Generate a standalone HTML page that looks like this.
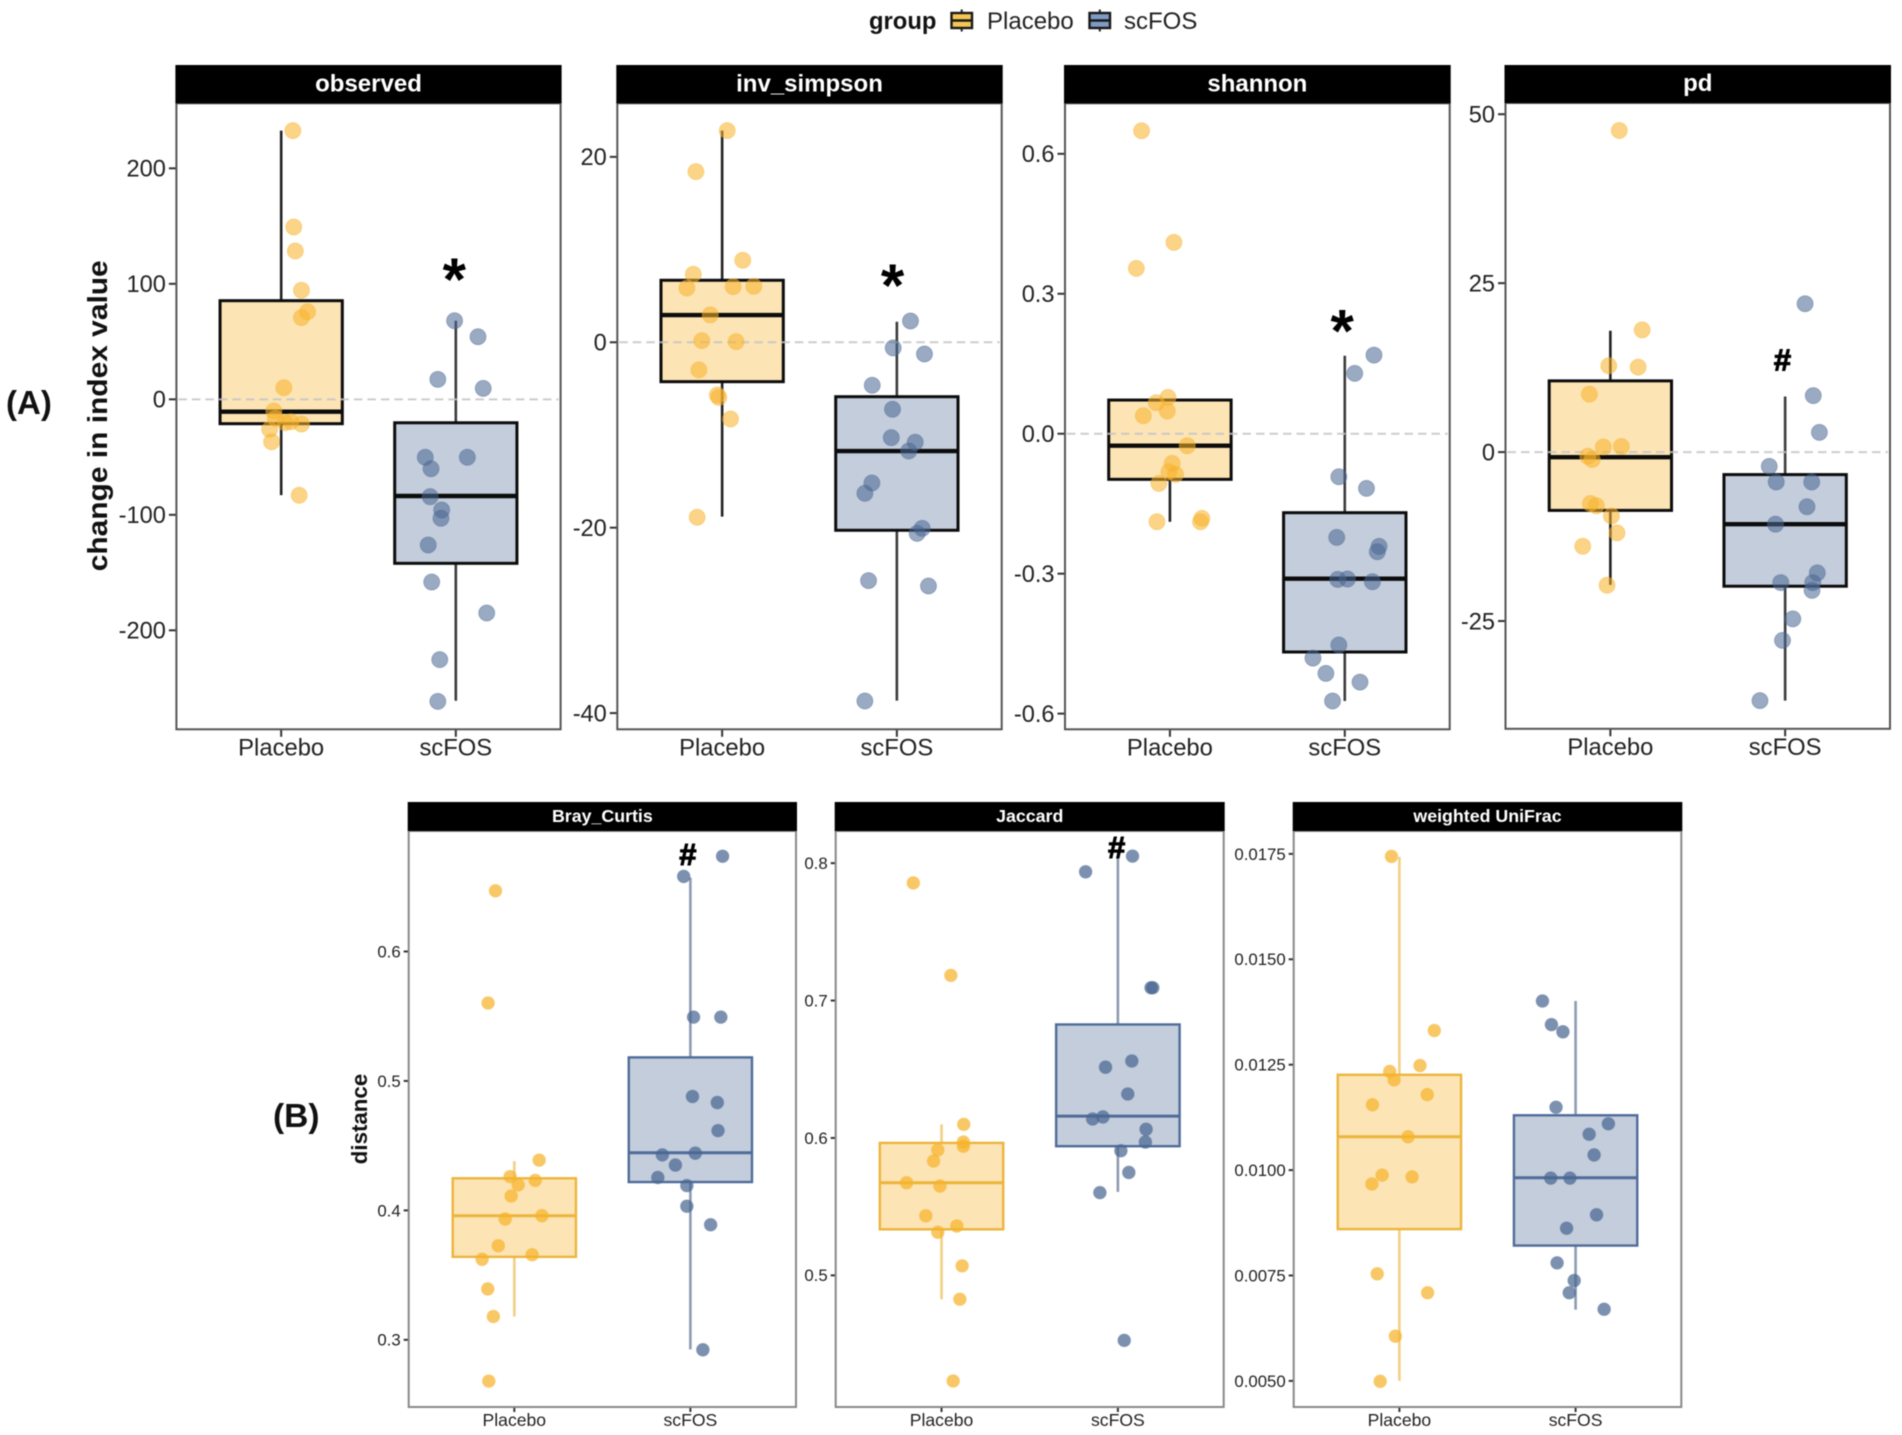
<!DOCTYPE html>
<html lang="en">
<head>
<meta charset="utf-8">
<title>Change in diversity index and distance by group</title>
<style>
html,body{margin:0;padding:0;background:#fff;}
svg{display:block;filter:blur(.55px);font-family:"Liberation Sans",sans-serif;}
</style>
</head>
<body>
<svg id="chart" xmlns="http://www.w3.org/2000/svg" width="1902" height="1435" viewBox="0 0 1902 1435">
<rect x="0" y="0" width="1902" height="1435" fill="#fff"/>
<g>
<text x="869" y="29" font-size="23.8" font-weight="bold" fill="#111">group</text>
<g>
<line x1="961.7" x2="961.7" y1="9.5" y2="31.5" stroke="#222" stroke-width="2"/>
<rect x="951.5" y="13" width="20.5" height="15" fill="#f5c653" stroke="#1a1a1a" stroke-width="2.4"/>
<line x1="951.5" x2="972" y1="20.5" y2="20.5" stroke="#1a1a1a" stroke-width="2.4"/>
</g>
<text x="987" y="29" font-size="24" fill="#222">Placebo</text>
<g>
<line x1="1099.8" x2="1099.8" y1="9.5" y2="31.5" stroke="#222" stroke-width="2"/>
<rect x="1089.5" y="13" width="20.5" height="15" fill="#7f9ac4" stroke="#1a1a1a" stroke-width="2.4"/>
<line x1="1089.5" x2="1110" y1="20.5" y2="20.5" stroke="#1a1a1a" stroke-width="2.4"/>
</g>
<text x="1124" y="29" font-size="24" fill="#222">scFOS</text>
</g>
<text x="6" y="414" font-size="33" font-weight="bold" fill="#111">(A)</text>
<text x="273" y="1127" font-size="33.5" font-weight="bold" fill="#111">(B)</text>
<text transform="translate(107,415.8) rotate(-90)" text-anchor="middle" font-size="28" font-weight="bold" textLength="311" lengthAdjust="spacingAndGlyphs" fill="#111">change in index value</text>
<text transform="translate(367,1119) rotate(-90)" text-anchor="middle" font-size="22.3" font-weight="bold" fill="#111">distance</text>
<g id="panels"></g>
</svg>
<script>
// ---------- shared categories ----------
const categories = ['Placebo', 'scFOS'];

// ---------- observed ----------
const observedTickValues = [200, 100, 0, -100, -200];
const observedTickLabels = ['200', '100', '0', '-100', '-200'];
const observedPlaceboBox = [-82.9, -21.1, -10.7, 85.4, 232.6];
const observedScfosBox = [-261, -142, -83.7, -20.3, 68];
const observedPlaceboValues = [232.6, 149.2, 128.4, 94.4, 75.8, 70.7, 10, -10.1, -26, -36.7, -83.1, -20.2, -19.4, -21.4, -16.5];
const observedPlaceboJitter = [.067, .072, .081, .116, .151, .116, .015, -.042, -.066, -.055, .103, .022, .055, .116, -.033];
const observedScfosValues = [68, 54.2, 17.3, 9.5, -50.2, -50.2, -60.1, -84.3, -95.8, -103, -126.1, -158.2, -185, -225.4, -261.5];
const observedScfosJitter = [-.007, .127, -.103, .157, -.175, .066, -.142, -.147, -.081, -.085, -.158, -.138, .177, -.092, -.103];

// ---------- inv_simpson ----------
const invTickValues = [20, 0, -20, -40];
const invTickLabels = ['20', '0', '-20', '-40'];
const invPlaceboBox = [-18.81, -4.25, 2.94, 6.69, 22.83];
const invScfosBox = [-38.66, -20.28, -11.73, -5.87, 2.22];
const invPlaceboValues = [22.83, 18.41, 8.85, 7.34, 5.86, 6.0, 6.04, 2.95, .18, .07, -2.98, -5.69, -5.94, -8.27, -18.88];
const invPlaceboJitter = [.029, -.150, .118, -.165, -.202, .063, .181, -.068, -.116, .080, -.133, -.028, -.019, .048, -.143];
const invScfosValues = [2.30, -.61, -1.26, -4.64, -7.23, -10.29, -10.79, -11.73, -15.18, -16.29, -20.07, -20.61, -25.71, -26.29, -38.7];
const invScfosJitter = [.078, -.021, .158, -.141, -.025, -.032, .105, .068, -.143, -.183, .145, .116, -.162, .181, -.183];

// ---------- shannon ----------
const shannonTickValues = [.6, .3, 0, -.3, -.6];
const shannonTickLabels = ['0.6', '0.3', '0.0', '-0.3', '-0.6'];
const shannonPlaceboBox = [-.1886, -.0978, -.0257, .0722, .074];
const shannonScfosBox = [-.573, -.4679, -.3108, -.1693, .1672];
const shannonPlaceboValues = [.6495, .4101, .3544, .0779, .0665, .0486, .0386, -.0257, -.0636, -.0815, -.0872, -.1065, -.1886, -.1815, -.1886];
const shannonPlaceboJitter = [-.162, .023, -.192, -.011, -.078, -.015, -.152, .099, .013, -.006, .032, -.063, -.074, .183, .175];
const shannonScfosValues = [.1686, .1293, -.0922, -.1172, -.2222, -.2415, -.2529, -.3123, -.3115, -.3173, -.453, -.4809, -.5138, -.5324, -.573];
const shannonScfosJitter = [.167, .057, -.034, .124, -.046, .196, .186, -.040, .015, .158, -.034, -.182, -.108, .087, -.070];

// ---------- pd ----------
const pdTickValues = [50, 25, 0, -25];
const pdTickLabels = ['50', '25', '0', '-25'];
const pdPlaceboBox = [-19.65, -8.63, -.75, 10.54, 17.95];
const pdScfosBox = [-36.78, -19.85, -10.67, -3.33, 8.23];
const pdPlaceboValues = [47.59, 18.08, 12.78, 12.58, 8.57, .75, .82, -.61, -1.09, -7.61, -7.95, -9.45, -11.96, -13.94, -19.71];
const pdPlaceboJitter = [.051, .182, -.009, .159, -.120, -.040, .063, -.129, -.104, -.114, -.080, .006, .038, -.158, -.019];
const pdScfosValues = [21.96, 8.36, 2.92, -2.11, -4.42, -4.42, -8.09, -10.67, -17.88, -19.31, -19.31, -20.46, -24.68, -27.87, -36.78];
const pdScfosJitter = [.114, .161, .196, -.091, -.051, .152, .125, -.055, .184, -.025, .158, .154, .044, -.015, -.144];

// ---------- Bray_Curtis ----------
const brayTickValues = [.6, .5, .4, .3];
const brayTickLabels = ['0.6', '0.5', '0.4', '0.3'];
const brayPlaceboBox = [.3180, .3641, .3959, .4248, .4381];
const brayScfosBox = [.2926, .4219, .4445, .5182, .6571];
const brayPlaceboValues = [.6469, .5602, .4388, .4261, .4197, .4232, .4111, .3933, .3959, .3727, .3657, .3622, .3393, .3180, .2681];
const brayPlaceboJitter = [-.107, -.149, .141, -.024, .022, .119, -.018, -.052, .157, -.091, .101, -.183, -.151, -.119, -.145];
const brayScfosValues = [.6736, .6580, .5493, .5493, .4880, .4833, .4616, .4429, .4442, .4350, .4254, .4191, .4032, .3889, .2923];
const brayScfosJitter = [.183, -.038, .018, .173, .012, .153, .157, -.159, .028, -.085, -.185, -.020, -.020, .115, .071];

// ---------- Jaccard ----------
const jaccardTickValues = [.8, .7, .6, .5];
const jaccardTickLabels = ['0.8', '0.7', '0.6', '0.5'];
const jaccardPlaceboBox = [.4826, .5335, .5674, .5964, .6099];
const jaccardScfosBox = [.5608, .5940, .6159, .6826, .8054];
const jaccardPlaceboValues = [.7856, .7183, .6099, .5970, .5940, .5913, .5832, .5674, .5650, .5434, .5359, .5314, .5069, .4826, .4231];
const jaccardPlaceboJitter = [-.160, .053, .126, .124, .124, -.021, -.045, -.198, -.009, -.089, .087, -.021, .117, .104, .066];
const jaccardScfosValues = [.8051, .7937, .7093, .7093, .6560, .6515, .6320, .6153, .6138, .6063, .5970, .5907, .5749, .5602, .4527];
const jaccardScfosJitter = [.083, -.183, .188, .198, .079, -.070, .056, -.085, -.143, .160, .156, .017, .062, -.102, .036];

// ---------- weighted UniFrac ----------
const unifracTickValues = [.0175, .015, .0125, .01, .0075, .005];
const unifracTickLabels = ['0.0175', '0.0150', '0.0125', '0.0100', '0.0075', '0.0050'];
const unifracPlaceboBox = [.00500, .00860, .01079, .01226, .01743];
const unifracScfosBox = [.00669, .00821, .00982, .01130, .01401];
const unifracPlaceboValues = [.01744, .01331, .01248, .01234, .01214, .01179, .01155, .01079, .00988, .00984, .00967, .00754, .00709, .00606, .00499];
const unifracPlaceboJitter = [-.045, .198, .117, -.055, -.030, .158, -.153, .049, -.098, .072, -.156, -.126, .160, -.023, -.109];
const unifracScfosValues = [.01401, .01345, .01328, .01149, .01110, .01085, .01036, .00981, .00981, .00894, .00862, .00780, .00738, .00709, .00670];
const unifracScfosJitter = [-.188, -.137, -.072, -.111, .186, .077, .105, -.141, -.032, .119, -.051, -.105, -.008, -.036, .162];

// ---------- significance markers: [category position, value] ----------
const observedMarker = [.991, 111];
const invMarker = [.975, 7.0];
const shannonMarker = [.985, .238];
const pdMarker = [.985, 13.65];
const brayMarker = [.986, .6749];
const jaccardMarker = [.993, .8114];

const styleA = {
  r: 8, pointOpacity: .56, ring: .4, tickFont: 23.6, stripFont: 24, tickLen: 7.5, labelGap: 3,
  xLabelOffset: 26, border: 2, borderColor: '#555',
  boxStroke: ['#0c0c0c', '#0c0c0c'], boxWidth: 3, medianWidth: 4.4,
  whiskerStroke: ['#222', '#3c3c3c'], whiskerWidth: 2.6
};
const styleB = {
  r: 6.4, pointOpacity: .72, ring: .3, tickFont: 16.8, stripFont: 17.8, tickLen: 5, labelGap: 3,
  xLabelOffset: 19, border: 2, borderColor: '#888',
  boxStroke: ['#ecb53c', '#4f6c99'], boxWidth: 2.4, medianWidth: 3,
  whiskerStroke: ['#f2d084', '#8e9ab0'], whiskerWidth: 2.6
};
const fills = ['#f7b32b', '#4a6792'];

const panels = [
  { name: 'observed', title: 'observed', left: 176.4, right: 560.6, top: 103.3, bottom: 729.3, stripTop: 65, yMin: -285.7, yMax: 256.3, zero: true, style: styleA,
    ticks: observedTickValues, labels: observedTickLabels, boxes: [observedPlaceboBox, observedScfosBox],
    values: [observedPlaceboValues, observedScfosValues], jitter: [observedPlaceboJitter, observedScfosJitter], marker: observedMarker, glyph: '*' },
  { name: 'inv-simpson', title: 'inv_simpson', left: 617.3, right: 1001.7, top: 103.3, bottom: 729.3, stripTop: 65, yMin: -41.75, yMax: 25.78, zero: true, style: styleA,
    ticks: invTickValues, labels: invTickLabels, boxes: [invPlaceboBox, invScfosBox],
    values: [invPlaceboValues, invScfosValues], jitter: [invPlaceboJitter, invScfosJitter], marker: invMarker, glyph: '*' },
  { name: 'shannon', title: 'shannon', left: 1065, right: 1449.7, top: 103.3, bottom: 729.3, stripTop: 65, yMin: -.6336, yMax: .7083, zero: true, style: styleA,
    ticks: shannonTickValues, labels: shannonTickLabels, boxes: [shannonPlaceboBox, shannonScfosBox],
    values: [shannonPlaceboValues, shannonScfosValues], jitter: [shannonPlaceboJitter, shannonScfosJitter], marker: shannonMarker, glyph: '*' },
  { name: 'pd', title: 'pd', left: 1505.5, right: 1890, top: 103, bottom: 728.8, stripTop: 65, yMin: -40.95, yMax: 51.66, zero: true, style: styleA,
    ticks: pdTickValues, labels: pdTickLabels, boxes: [pdPlaceboBox, pdScfosBox],
    values: [pdPlaceboValues, pdScfosValues], jitter: [pdPlaceboJitter, pdScfosJitter], marker: pdMarker, glyph: '#' },
  { name: 'bray-curtis', title: 'Bray_Curtis', left: 408.7, right: 796, top: 831, bottom: 1407, stripTop: 802, yMin: .2481, yMax: .6931, zero: false, style: styleB,
    ticks: brayTickValues, labels: brayTickLabels, boxes: [brayPlaceboBox, brayScfosBox],
    values: [brayPlaceboValues, brayScfosValues], jitter: [brayPlaceboJitter, brayScfosJitter], marker: brayMarker, glyph: '#' },
  { name: 'jaccard', title: 'Jaccard', left: 835.7, right: 1223.7, top: 831, bottom: 1407, stripTop: 802, yMin: .4042, yMax: .8234, zero: false, style: styleB,
    ticks: jaccardTickValues, labels: jaccardTickLabels, boxes: [jaccardPlaceboBox, jaccardScfosBox],
    values: [jaccardPlaceboValues, jaccardScfosValues], jitter: [jaccardPlaceboJitter, jaccardScfosJitter], marker: jaccardMarker, glyph: '#' },
  { name: 'weighted-unifrac', title: 'weighted UniFrac', left: 1293.7, right: 1681.3, top: 831, bottom: 1407, stripTop: 802, yMin: .004381, yMax: .018043, zero: false, style: styleB,
    ticks: unifracTickValues, labels: unifracTickLabels, boxes: [unifracPlaceboBox, unifracScfosBox],
    values: [unifracPlaceboValues, unifracScfosValues], jitter: [unifracPlaceboJitter, unifracScfosJitter], marker: null, glyph: '' }
];

const NS = 'http://www.w3.org/2000/svg';
function mk(tag, attrs, parent) {
  const el = document.createElementNS(NS, tag);
  for (const k in attrs) el.setAttribute(k, attrs[k]);
  parent.appendChild(el);
  return el;
}

function drawPanel(p) {
  const s = p.style;
  const g = mk('g', {}, document.getElementById('panels'));
  
  

  // axis functions: discrete x with ggplot's 0.6 expansion, linear y
  const unit = (p.right - p.left) / 2.2;
  const xScale = pos => p.left + (pos + .6) * unit;
  const yScale = v => p.bottom - (v - p.yMin) / (p.yMax - p.yMin) * (p.bottom - p.top);

  const bg = mk('rect', { x: p.left, y: p.top, width: p.right - p.left, height: p.bottom - p.top, fill: '#fff' }, g);
  
  

  // y ticks
  p.ticks.forEach((v, i) => {
    const tick = mk('line', { x1: p.left - s.tickLen, x2: p.left, y1: yScale(v), y2: yScale(v), stroke: '#333', 'stroke-width': 2 }, g);
    
    
    const lab = mk('text', { x: p.left - s.tickLen - s.labelGap, y: yScale(v) + s.tickFont * .35, 'text-anchor': 'end', 'font-size': s.tickFont, fill: '#222' }, g);
    lab.textContent = p.labels[i];
    
    
  });

  // x ticks
  categories.forEach((c, i) => {
    const tick = mk('line', { x1: xScale(i), x2: xScale(i), y1: p.bottom, y2: p.bottom + s.tickLen, stroke: '#333', 'stroke-width': 2 }, g);
    
    
    const lab = mk('text', { x: xScale(i), y: p.bottom + s.xLabelOffset, 'text-anchor': 'middle', 'font-size': s === styleA ? 23.8 : 17.6, fill: '#222' }, g);
    lab.textContent = c;
    
    
  });

  // boxes
  p.boxes.forEach((b, i) => {
    const cx = xScale(i);
    const half = unit * .35;
    const whisker = mk('line', { x1: cx, x2: cx, y1: yScale(b[4]), y2: yScale(b[0]), stroke: s.whiskerStroke[i], 'stroke-width': s.whiskerWidth }, g);
    
    
    const rectBg = mk('rect', { x: cx - half, y: yScale(b[3]), width: half * 2, height: yScale(b[1]) - yScale(b[3]), fill: '#fff' }, g);
    
    
    const rect = mk('rect', { x: cx - half, y: yScale(b[3]), width: half * 2, height: yScale(b[1]) - yScale(b[3]), fill: fills[i], 'fill-opacity': i ? .33 : .35, stroke: s.boxStroke[i], 'stroke-width': s.boxWidth }, g);
    
    
    const med = mk('line', { x1: cx - half, x2: cx + half, y1: yScale(b[2]), y2: yScale(b[2]), stroke: s.boxStroke[i], 'stroke-width': s.medianWidth }, g);
    
    
  });

  // zero reference line
  if (p.zero) {
    const zero = mk('line', { x1: p.left + 2, x2: p.right - 2, y1: yScale(0), y2: yScale(0), stroke: '#c4c4c8', 'stroke-opacity': .85, 'stroke-width': 2, 'stroke-dasharray': '8.5 5' }, g);
    
    
  }

  // jittered points
  p.values.forEach((vals, i) => {
    vals.forEach((v, k) => {
      const pt = mk('circle', { cx: xScale(i + p.jitter[i][k]), cy: yScale(v), r: s.r, fill: fills[i], 'fill-opacity': s.pointOpacity, stroke: fills[i], 'stroke-opacity': s.ring, 'stroke-width': 1 }, g);
      
      
    });
  });

  // panel border and strip
  const border = mk('rect', { x: p.left, y: p.top, width: p.right - p.left, height: p.bottom - p.top, fill: 'none', stroke: s.borderColor, 'stroke-width': s.border }, g);
  
  
  const strip = mk('rect', { x: p.left - 1, y: p.stripTop, width: p.right - p.left + 2, height: p.top - p.stripTop, fill: '#000' }, g);
  
  
  const title = mk('text', { x: (p.left + p.right) / 2, y: (p.stripTop + p.top) / 2 + s.stripFont * .3, 'text-anchor': 'middle', 'font-size': s.stripFont, 'font-weight': 'bold', fill: '#fff' }, g);
  title.textContent = p.title;
  
  

  // significance marker
  if (p.marker) {
    const star = p.glyph === '*';
    const size = star ? 60 : 31;
    const mark = mk('text', { x: xScale(p.marker[0]), y: yScale(p.marker[1]) + size * (star ? .48 : .34), 'text-anchor': 'middle', 'font-size': size, 'font-weight': 'bold', fill: '#000', stroke: star ? 'none' : '#000', 'stroke-width': star ? 0 : 1 }, g);
    mark.textContent = p.glyph;
    
    
  }
}

panels.forEach(drawPanel);
</script>
</body>
</html>
